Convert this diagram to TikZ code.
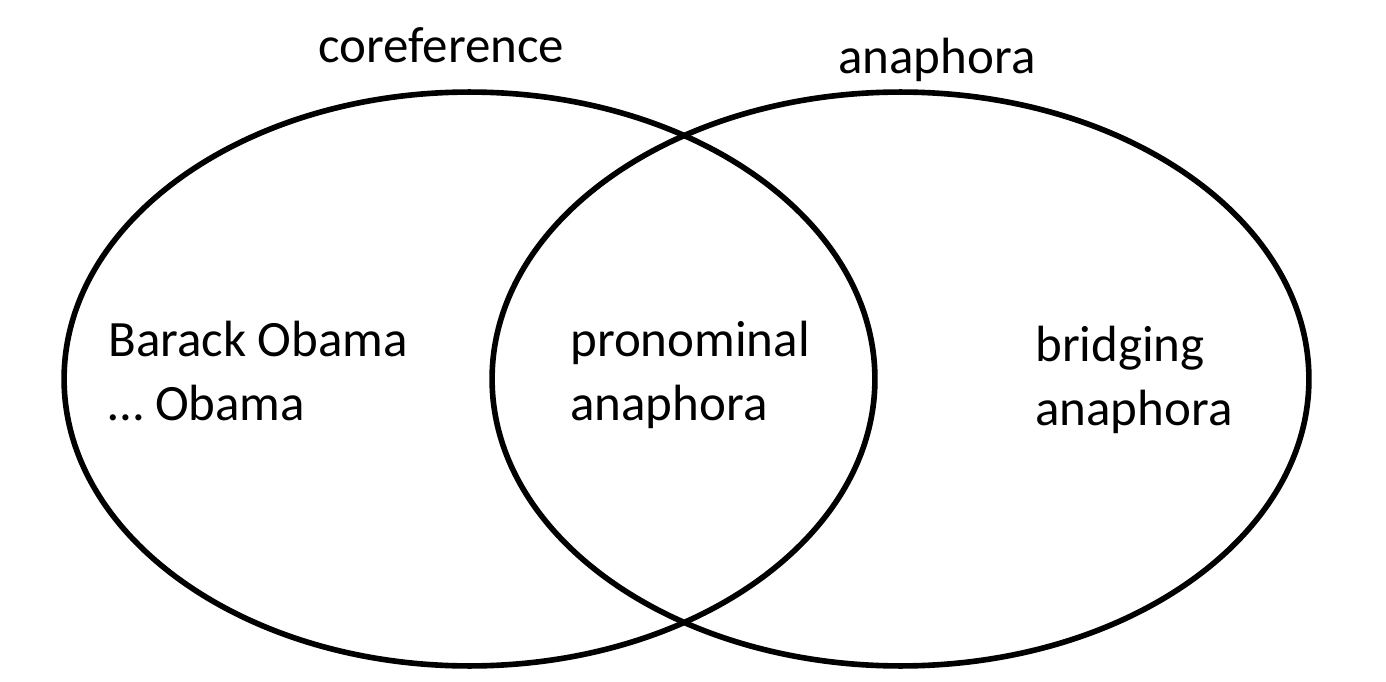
\documentclass[tikz,border=0pt]{standalone}
\usepackage{fontspec}
\setmainfont{Carlito}
\usetikzlibrary{positioning, shapes.geometric}

\begin{document}
\begin{tikzpicture}[
      x=0.02cm, y=-0.02cm,
      every node/.style={font=\fontsize{29pt}{36pt}\selectfont},
      setring/.style={ellipse, draw=black, line width=3.2pt, inner sep=0pt,
                      minimum height=11.48cm},
      settitle/.style={anchor=base west, inner sep=0pt},
      member/.style={anchor=base west, inner sep=0pt, align=left},
    ]
    \useasboundingbox (0,0) rectangle (1386,682);

    % the two sets
    \node[setring, minimum width=16.22cm] (coref) at (469.5,379) {};
    \node[setring, minimum width=16.34cm] (anaph) at (900.5,379) {};

    % set names
    \node[settitle] (coreftitle) at (318,63) {coreference};
    \node[settitle] (anaphtitle) at (838,74) {anaphora};

    % members (anchored on the last line)
    \node[member] (obama)   at (108,420)  {Barack Obama \\ \dots\ Obama};
    \node[member] (pronom)  at (570,420)  {pronominal \\ anaphora};
    \node[member] (bridge)  at (1035,425) {bridging \\ anaphora};
  \end{tikzpicture}
\end{document}
